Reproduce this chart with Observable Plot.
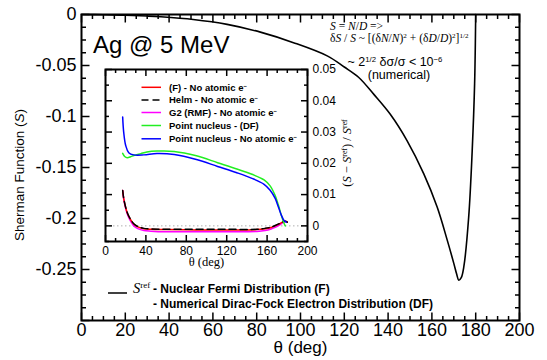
<!DOCTYPE html>
<html><head><meta charset="utf-8">
<script src="https://cdn.jsdelivr.net/npm/d3@7"></script>
<script src="https://cdn.jsdelivr.net/npm/@observablehq/plot@0.6"></script>
<style>
body{margin:0;background:#fff;}
#wrap{position:relative;width:547px;height:360px;font-family:"Liberation Sans",Arial,sans-serif;color:#000;overflow:hidden;}
#wrap > svg{position:absolute;overflow:visible;}
.abs{position:absolute;white-space:nowrap;line-height:1;}
.serif{font-family:"Liberation Serif","Times New Roman",serif;}
sup{font-size:0.62em;vertical-align:0.55em;line-height:0;}
.leg{font-weight:bold;font-size:9.5px;}
</style></head><body><div id="wrap"></div>
<script>
// ---- Main curve: S_ref (Nuclear Fermi + numerical DF electrons) ----
const refTheta = [0, 10, 20, 30, 36, 51, 66.5, 81.7, 96.8, 112.2, 120, 126.5, 133.5, 141, 148.7, 156.3, 162.4, 167, 170, 171.3, 172.3, 173.4, 174.6, 176.8, 178.4, 179.5, 180];
const refS = [0, -0.0002, -0.0007, -0.0015, -0.0022, -0.0049, -0.0097, -0.0173, -0.0276, -0.0406, -0.0515, -0.0615, -0.0783, -0.0978, -0.1238, -0.1562, -0.1888, -0.2212, -0.244, -0.2545, -0.2605, -0.258, -0.247, -0.1985, -0.1335, -0.068, 0];

// ---- Inset: (S - Sref)/Sref ----
const thetaF = [17, 18, 20, 22, 25, 28, 32, 38, 45, 60, 90, 120, 150, 158, 164, 168, 172, 175, 178, 180];
const relF    = [0.0113, 0.0088, 0.0058, 0.0038, 0.0019, 0.0006, -0.0003, -0.0009, -0.0011, -0.0012, -0.0013, -0.0013, -0.0012, -0.0009, -0.0005, 0.0000, 0.0006, 0.0012, 0.0015, 0.0012];
const relHelm = [0.0113, 0.0089, 0.0059, 0.0039, 0.0020, 0.0007, -0.0002, -0.0008, -0.0010, -0.0011, -0.0011, -0.0011, -0.0011, -0.0008, -0.0004, 0.0001, 0.0007, 0.0012, 0.0015, 0.0012];
const relG2   = [0.0113, 0.0086, 0.0055, 0.0034, 0.0014, 0.0000, -0.0009, -0.0015, -0.0017, -0.0019, -0.0019, -0.0019, -0.0018, -0.0015, -0.0010, -0.0005, 0.0002, 0.0009, 0.0014, 0.0012];
const thetaPDF = [17, 19, 21.5, 25, 28, 35, 41, 51, 68, 90, 111, 130, 145, 157, 163, 168, 171, 174, 176.5, 178];
const relPDF   = [0.0232, 0.0222, 0.0218, 0.0221, 0.0225, 0.0231, 0.0236, 0.0239, 0.0238, 0.0224, 0.0202, 0.0182, 0.0165, 0.0147, 0.0128, 0.0097, 0.0068, 0.0035, 0.0010, 0.0];
const thetaP = [17, 18, 20, 23, 28, 38, 51, 68, 90, 111, 130, 145, 157, 163, 168, 171, 174, 177, 179];
const relP   = [0.0348, 0.0300, 0.0257, 0.0234, 0.0227, 0.0227, 0.0231, 0.0228, 0.0212, 0.0190, 0.0170, 0.0152, 0.0133, 0.0114, 0.0088, 0.0062, 0.0035, 0.0016, 0.0012];

// ---- tick labels ----
const xMajor = [0, 20, 40, 60, 80, 100, 120, 140, 160, 180, 200];
const yMajorLabels = [0, -0.05, -0.1, -0.15, -0.2, -0.25];
const xInset = [0, 40, 80, 120, 160, 200];
const yInset = [0, 0.01, 0.02, 0.03, 0.04, 0.05];

const legendLabels = ["(F) - No atomic e", "Helm - No atomic e", "G2 (RMF) - No atomic e", "Point nucleus - (DF)", "Point nucleus - No atomic e"];
const legendElectron = [true, true, true, false, true];
const legendColors = ["#ff0000", "#000000", "#ff00ff", "#22ee22", "#0000ff"];
const legendDash = [null, "7,4", null, null, null];

const wrap = document.getElementById("wrap");
const SANS = '"Liberation Sans", Arial, sans-serif';
const SERIF = '"Liberation Serif", "Times New Roman", serif';

// inward ticks on all four sides of a frame (drawn as link paths); lengths in pixels
function tickMarks(xDom, yDom, W, H, xMin, xMaj, yMin, yMaj, lMin, lMaj, sw) {
  const px = (xDom[1] - xDom[0]) / W, py = (yDom[1] - yDom[0]) / H;
  const out = [];
  const o = {stroke: "black", strokeWidth: sw};
  for (const [vals, L] of [[xMin, lMin], [xMaj, lMaj]]) {
    out.push(Plot.link(vals, {x1: d => d, x2: d => d, y1: () => yDom[0], y2: () => yDom[0] + L * py, ...o}));
    out.push(Plot.link(vals, {x1: d => d, x2: d => d, y1: () => yDom[1] - L * py, y2: () => yDom[1], ...o}));
  }
  for (const [vals, L] of [[yMin, lMin], [yMaj, lMaj]]) {
    out.push(Plot.link(vals, {y1: d => d, y2: d => d, x1: () => xDom[0], x2: () => xDom[0] + L * px, ...o}));
    out.push(Plot.link(vals, {y1: d => d, y2: d => d, x1: () => xDom[1] - L * px, x2: () => xDom[1], ...o}));
  }
  return out;
}
const series = (xs, ys) => xs.map((x, i) => ({x, y: ys[i]}));

// ---------- main plot ----------
const M = {l: 81, r: 28, t: 14, b: 40};
const MW = 547 - M.l - M.r, MH = 360 - M.t - M.b;
const xDomMain = [0, 200], yDomMain = [-0.3, 0];
const xMinorMain = d3.range(0, 201, 5).filter(v => v % 20 !== 0);
const yMajorMain = d3.range(0, 7).map(k => -0.05 * k);
const yMinorMain = d3.range(0, 25).map(k => -0.0125 * k).filter((v, k) => k % 4 !== 0);

const main = Plot.plot({
  width: 547, height: 360,
  marginLeft: M.l, marginRight: M.r, marginTop: M.t, marginBottom: M.b,
  x: {domain: xDomMain}, y: {domain: yDomMain},
  style: {fontFamily: SANS, fontSize: "18px", background: "white", color: "black"},
  marks: [
    Plot.line(series(refTheta, refS), {x: "x", y: "y", stroke: "black", strokeWidth: 1.6, curve: "catmull-rom"}),
    ...tickMarks(xDomMain, yDomMain, MW, MH, xMinorMain, xMajor, yMinorMain, yMajorMain, 4.5, 8, 1.5),
    Plot.axisX(xMajor, {tickSize: 0, tickPadding: 3, fontSize: 18, tickFormat: d => String(d), label: null}),
    Plot.axisY(yMajorLabels, {tickSize: 0, tickPadding: 5, fontSize: 18, tickFormat: d => d === 0 ? "0" : String(d), label: null}),
    Plot.text(["θ (deg)"], {frameAnchor: "bottom", dy: 32.5, fontSize: 17}),
    Plot.frame({strokeWidth: 2})
  ]
});
main.style.left = "0px"; main.style.top = "0px";
wrap.appendChild(main);

// ---------- inset plot ----------
const IP = {left: 95, top: 60, w: 275, h: 222, l: 10, r: 63, t: 9, b: 41};
const IW = IP.w - IP.l - IP.r, IH = IP.h - IP.t - IP.b;
const xDomIn = [0, 200], yDomIn = [-0.005, 0.05];
const xMinorIn = d3.range(0, 201, 10).filter(v => v % 40 !== 0);
const yMajorIn = d3.range(0, 6).map(k => 0.01 * k);
const yMinorIn = d3.range(-1, 11).map(k => 0.005 * k).filter((v, i) => (i % 2) === 0);

const inset = Plot.plot({
  width: IP.w, height: IP.h,
  marginLeft: IP.l, marginRight: IP.r, marginTop: IP.t, marginBottom: IP.b,
  x: {domain: xDomIn}, y: {domain: yDomIn},
  style: {fontFamily: SANS, fontSize: "12px", background: "transparent", color: "black"},
  marks: [
    Plot.frame({fill: "white", stroke: null}),
    Plot.ruleY([0], {stroke: "#b0b0b0", strokeDasharray: "1.5,2.5", strokeWidth: 1}),
    Plot.line(series(thetaF, relG2), {x: "x", y: "y", stroke: legendColors[2], strokeWidth: 1.5, curve: "catmull-rom"}),
    Plot.line(series(thetaF, relF), {x: "x", y: "y", stroke: legendColors[0], strokeWidth: 1.5, curve: "catmull-rom"}),
    Plot.line(series(thetaF, relHelm), {x: "x", y: "y", stroke: legendColors[1], strokeWidth: 1.5, strokeDasharray: "7,4", curve: "catmull-rom"}),
    Plot.line(series(thetaPDF, relPDF), {x: "x", y: "y", stroke: legendColors[3], strokeWidth: 1.5, curve: "catmull-rom"}),
    Plot.line(series(thetaP, relP), {x: "x", y: "y", stroke: legendColors[4], strokeWidth: 1.5, curve: "catmull-rom"}),
    ...tickMarks(xDomIn, yDomIn, IW, IH, xMinorIn, xInset, yMinorIn, yMajorIn, 3.5, 6.5, 1.5),
    Plot.axisX(xInset, {tickSize: 0, tickPadding: 5, fontSize: 12, tickFormat: d => String(d), label: null}),
    Plot.axisY(yInset, {anchor: "right", tickSize: 0, tickPadding: 5, fontSize: 12, tickFormat: d => d === 0 ? "0" : String(+d.toFixed(3)), label: null}),
    Plot.text(["θ (deg)"], {frameAnchor: "bottom", dy: 24, fontSize: 12.5, fontFamily: SERIF}),
    Plot.frame({strokeWidth: 2})
  ]
});
inset.style.left = IP.left + "px"; inset.style.top = IP.top + "px";
wrap.appendChild(inset);

// ---------- overlay text & legends ----------
function addDiv(html, css, cls = "abs") {
  const d = document.createElement("div");
  d.className = cls;
  d.innerHTML = html;
  d.style.cssText = css;
  wrap.appendChild(d);
  return d;
}
const ns = "http://www.w3.org/2000/svg";
const ov = document.createElementNS(ns, "svg");
ov.setAttribute("width", 547); ov.setAttribute("height", 360);
ov.style.cssText = "position:absolute;left:0;top:0;overflow:visible;";
wrap.appendChild(ov);
function sample(x1, x2, y, color, dash, sw) {
  const l = document.createElementNS(ns, "path");
  l.setAttribute("d", `M${x1},${y}H${x2}`);
  l.setAttribute("stroke", color); l.setAttribute("stroke-width", sw);
  l.setAttribute("fill", "none");
  if (dash) l.setAttribute("stroke-dasharray", dash);
  ov.appendChild(l);
}

// title
addDiv("Ag @ 5 MeV", "left:93px;top:32.5px;font-size:24px;");
// y label
addDiv('Sherman Function (<i>S</i>)', "left:20px;top:175px;font-size:13.5px;transform:translate(-50%,-50%) rotate(-90deg);");
// annotation (serif lines, then sans lines)
addDiv('<i>S</i> = <i>N</i>/<i>D</i> =&gt;', "left:330px;top:21px;font-size:11.5px;", "abs serif");
addDiv('δ<i>S</i> / <i>S</i> ~ [(δ<i>N</i>/<i>N</i>)<sup>2</sup> + (δ<i>D</i>/<i>D</i>)<sup>2</sup>]<sup>1/2</sup>', "left:330px;top:33px;font-size:11.5px;", "abs serif");
addDiv('~ 2<sup>1/2</sup> δσ/σ &lt; 10<sup>−6</sup>', "left:295px;width:200px;text-align:center;top:56px;font-size:12.5px;");
addDiv('(numerical)', "left:299px;width:200px;text-align:center;top:68.5px;font-size:12.5px;");
// inset y label
addDiv('(<i>S</i> − <i>S</i><sup>ref</sup>) / <i>S</i><sup>ref</sup>', "left:347px;top:153px;font-size:12.5px;transform:translate(-50%,-50%) rotate(-90deg);", "abs serif");
// inset legend
const legY = [87.3, 100, 112.5, 125.5, 138.8];
legendLabels.forEach((lab, i) => {
  sample(141.5, 161, legY[i], legendColors[i], legendDash[i], 1.5);
  addDiv(lab + (legendElectron[i] ? '<sup>−</sup>' : ''), `left:169px;top:${legY[i] - 4.6}px;`, "abs leg");
});
// bottom legend
sample(108, 127, 293, "black", null, 1.5);
addDiv('<i>S</i><sup>ref</sup>', "left:133px;top:281px;font-size:14.5px;", "abs serif");
addDiv('- Nuclear Fermi Distribution (F)', "left:153px;top:283px;font-size:12px;font-weight:bold;");
addDiv('- Numerical Dirac-Fock Electron Distribution (DF)', "left:153px;top:297.5px;font-size:12px;font-weight:bold;");
</script></body></html>
